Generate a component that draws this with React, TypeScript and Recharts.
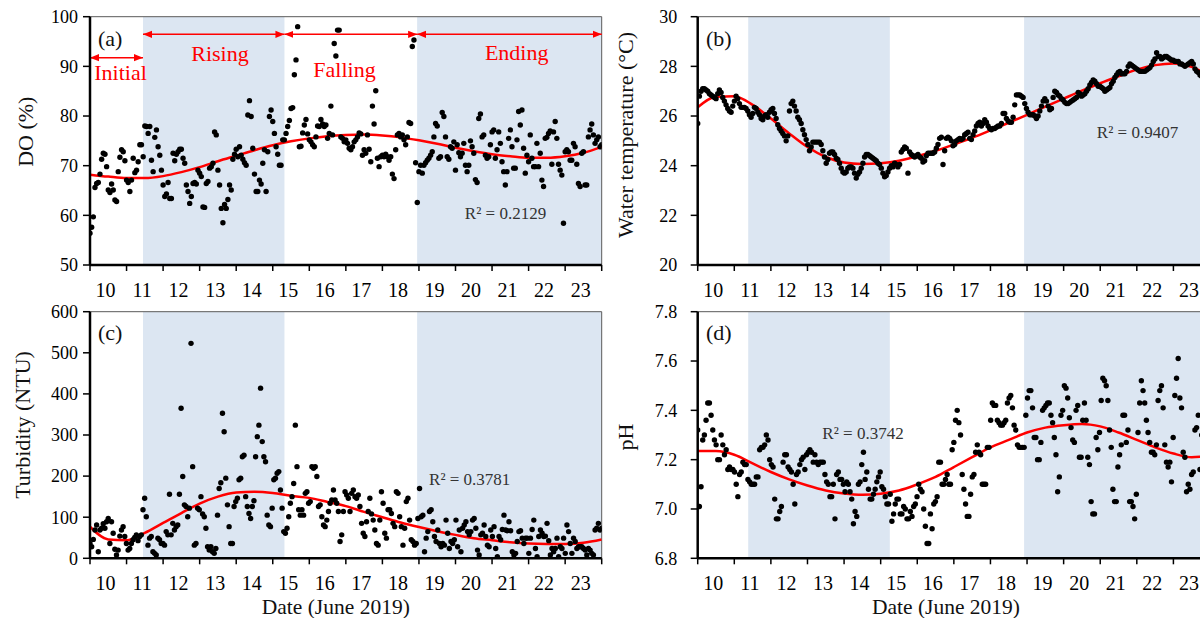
import React from "react";
import {
  ComposedChart,
  Scatter,
  Line,
  XAxis,
  YAxis,
  ReferenceArea,
  ReferenceLine,
} from "recharts";

const FONT = '"Liberation Serif", "Times New Roman", serif';

// x axis: days since 10 June 2019, labels sit between the day ticks
const dayTicks = [0, 1, 2, 3, 4, 5, 6, 7, 8, 9, 10, 11, 12, 13, 14];
const dayLabels = ["10", "11", "12", "13", "14", "15", "16", "17", "18", "19", "20", "21", "22", "23"];
const trendDays = [0, 0.5, 1, 1.5, 2, 2.5, 3, 3.5, 4, 4.5, 5, 5.5, 6, 6.5, 7, 7.5, 8, 8.5, 9, 9.5, 10, 10.5, 11, 11.5, 12, 12.5, 13, 13.5, 14];

// shaded phases (start/end day)
const bandsLeft = [[1.45, 5.32], [8.95, 14]];
const bandsRight = [[1.38, 5.25], [8.92, 14]];
const initialSpan = [0, 1.45];
const phaseSpans = [[1.45, 5.32], [5.32, 8.95], [8.95, 14]];

// (a) DO (%)
const doValues = [
  56.4, 57.6, 59.7, 65.6, 66.4, 66.6, 68.3, 71.3, 72.5, 72.3, 69.8, 65.1, 64.6, 66.3, 65.1, 63.1, 62.8, 68.8, 71.7, 73.2, 72.8, 71.0, 67.1, 66.6,
  64.8, 67.1, 71.5, 68.6, 69.1, 70.8, 74.2, 74.2, 71.8, 78.0, 77.9, 76.5, 77.9, 71.1, 68.8, 75.7, 77.2, 73.8, 72.1, 69.1, 66.1, 63.8, 64.3, 66.6,
  63.4, 63.4, 72.5, 71.0, 72.3, 72.8, 73.3, 73.3, 71.5, 70.5, 66.1, 64.8, 62.4, 63.8, 66.4, 66.6, 66.3, 69.1, 68.5, 67.8, 61.7, 61.6, 66.4, 66.8,
  69.5, 69.8, 70.5, 76.8, 76.2, 69.1, 66.1, 61.4, 58.5, 62.2, 61.4, 63.2, 66.1, 65.1, 71.3, 72.3, 73.3, 71.8, 73.8, 72.1, 71.3, 70.6, 70.1, 80.2,
  83.1, 79.9, 73.5, 68.3, 64.8, 64.8, 67.1, 66.3, 70.5, 73.2, 64.8, 72.8, 79.9, 81.2, 78.9, 76.5, 73.8, 72.3, 70.1, 70.1, 75.2, 75.2, 76.5, 77.9,
  79.1, 81.5, 81.7, 88.3, 91.3,
  98.0, 73.8, 73.9, 76.6, 78.2, 79.3, 76.4, 75.2, 74.8, 74.2, 73.8, 75.8, 78.0, 77.9, 79.3, 78.4, 77.9, 78.2, 75.5, 76.5, 82.0, 76.2, 94.6, 92.1,
  97.3, 97.3, 75.8, 75.5, 74.8, 75.2, 74.5, 73.5, 73.2, 73.8, 74.8, 75.2, 75.8, 76.6, 76.4, 72.1, 73.2, 72.5, 76.2, 73.3, 70.8, 82.0, 78.4, 85.1,
  71.5, 69.8, 71.8, 72.1, 71.8, 72.3, 71.8, 71.1, 71.8, 68.3, 67.4, 73.2, 76.2, 76.5, 75.8, 76.2, 75.2, 74.2, 75.8, 78.7, 78.5, 94.0, 95.3,
  70.6, 62.6, 68.8, 70.1, 68.5, 70.1, 70.6, 71.1, 71.5, 72.1, 72.8, 75.8, 78.5, 78.0, 71.5, 71.8, 80.7, 79.9, 75.8, 71.8,
  71.3, 73.8, 73.5, 74.8, 69.1, 74.2, 72.6, 71.8, 72.5, 74.5, 70.1, 68.8, 70.1, 75.0, 73.8, 72.5, 67.2, 66.6, 79.5, 80.4,
  75.8, 76.2, 72.1, 71.5, 71.8, 74.2, 76.8, 77.2, 71.5, 73.2, 76.8, 74.5, 70.8, 68.8, 66.1, 68.8, 75.5, 77.2, 73.8, 69.5,
  69.5, 75.2, 80.9, 78.2, 81.2, 73.5, 68.5, 72.1, 70.8, 76.2, 71.5, 69.8, 69.8, 74.5, 69.8, 72.5, 67.1, 65.8, 75.5, 75.7,
  76.5, 77.0, 70.3, 76.8, 78.9, 75.5, 70.3, 69.1, 68.1, 58.4, 72.8, 73.2, 72.8, 71.1, 71.1, 74.5, 73.8, 70.3, 66.4, 65.8,
  72.5, 72.8, 66.1, 66.1, 75.8, 77.2, 78.4, 76.2, 74.5, 75.2, 75.8, 73.8, 74.2,
];
const doTrend = [68.2, 67.8, 67.5, 67.5, 67.9, 68.7, 69.7, 70.9, 72.0, 73.1, 74.1, 74.9, 75.5, 75.95, 76.2, 76.3, 76.1, 75.7, 75.1, 74.4, 73.6, 72.9, 72.3, 71.9, 71.6, 71.6, 71.9, 72.6, 73.8];

// (b) water temperature (°C)
const wtValues = [
  25.7, 26.8, 27.0, 27.1, 27.1, 27.05, 27.0, 26.9, 26.85, 26.8, 26.75, 26.7, 26.9, 27.05, 26.95, 26.75, 26.6, 26.45, 26.3, 26.2, 26.15, 26.4,
  26.6, 26.8, 26.7, 26.5, 26.35, 26.35, 26.35, 26.3, 26.2, 26.05, 25.95, 26.1, 26.35, 26.3, 26.15, 26.05, 25.9, 25.85, 26.0, 26.05, 25.95,
  26.15, 26.25, 26.3, 26.1, 25.9, 25.65, 25.5, 25.4, 25.3, 25.2, 25.0, 25.2, 26.2, 26.5, 26.6, 26.4, 26.2, 25.95, 25.85, 25.7, 25.45, 25.25,
  25.05, 24.85, 24.6, 24.75, 24.95, 24.95, 24.95, 24.95, 24.95, 24.85, 24.6, 24.35, 24.1, 24.25, 24.5, 24.55, 24.55, 24.45, 24.3, 24.25,
  24.1, 23.9, 23.75, 23.7, 23.75, 23.9, 23.95, 23.95, 23.9, 23.7, 23.5, 23.65, 23.75, 23.9, 24.1, 24.35, 24.45, 24.45, 24.4, 24.35, 24.3,
  24.25, 24.2, 24.1, 24.05, 23.9, 23.7, 23.55, 23.6, 23.75, 23.9, 24.0, 23.95, 24.1, 24.05, 23.95, 24.05,
  24.55, 24.65, 24.75, 24.7, 23.7, 24.55, 24.45, 24.4, 24.35, 24.4, 24.45, 24.35, 24.3, 24.15, 24.2, 24.4, 24.5, 24.5, 24.5, 24.5,
  24.55, 24.7, 24.85, 25.1, 25.15, 24.05, 24.6, 25.1, 25.15, 25.1, 25.0, 24.8, 24.85, 25.0, 25.05, 25.1, 25.05, 25.1, 25.25, 25.3,
  25.35, 25.1, 25.05, 25.25, 25.4, 25.6, 25.7, 25.75, 25.6, 25.7, 25.85, 25.75, 25.6, 25.5, 25.45, 25.5, 25.5, 25.55, 25.6, 25.6,
  25.7, 26.1, 26.1, 25.9, 25.8, 25.75, 25.75, 25.95, 26.45, 26.85, 26.85, 26.85, 26.8, 26.75, 26.5, 26.3, 26.15, 26.05, 26.05, 26.05,
  26.0, 25.9, 26.0, 26.2, 26.4, 26.6, 26.7, 26.6, 26.4, 26.25, 26.3, 26.75, 27.0, 26.95, 26.85, 26.8, 26.7, 26.65, 26.55, 26.5,
  26.5, 26.55, 26.6, 26.65, 26.7, 26.75, 26.95, 26.9, 26.8, 26.85, 26.9, 27.0, 27.1, 27.25, 27.35, 27.45, 27.4, 27.3, 27.2, 27.2,
  27.15, 27.1, 27.0, 27.05, 27.1, 27.15, 27.3, 27.4, 27.55, 27.65, 27.75, 27.8, 27.7, 27.7, 27.7, 27.8, 28.0, 28.1, 28.05, 28.0,
  27.95, 27.9, 27.85, 27.8, 27.8, 27.8, 27.8, 27.85, 27.9, 27.95, 28.05, 28.2, 28.3, 28.55, 28.4, 28.4, 28.3, 28.35, 28.4, 28.4,
  28.35, 28.3, 28.25, 28.25, 28.2, 28.2, 28.2, 28.1, 28.1, 28.05, 28.0, 28.05, 28.1, 28.15, 28.2, 28.1, 27.9, 27.8, 27.75, 27.65,
  27.6, 27.55, 27.6, 27.5, 27.45, 27.5,
];
const wtTrend = [26.35, 26.78, 26.8, 26.45, 25.9, 25.3, 24.75, 24.35, 24.13, 24.07, 24.1, 24.2, 24.38, 24.6, 24.85, 25.12, 25.42, 25.73, 26.05, 26.38, 26.7, 27.02, 27.32, 27.6, 27.87, 28.05, 28.12, 27.98, 27.6];

// (c) turbidity (NTU)
const tbValues = [
  36, 28, 46, 69, 81, 16, 69, 73, 84, 73, 89, 97, 36, 89, 61, 22, 8, 20, 54, 69, 77, 53, 36, 20, 24, 36, 45, 51, 57, 43,
  53, 57, 118, 146, 101, 32, 49, 53, 16, 12, 8, 49, 45, 36, 36, 32, 65, 57, 156, 57, 85, 69, 77, 81, 156, 365, 199, 130, 126, 101,
  122, 523, 223, 32, 36, 122, 118, 150, 108, 101, 73, 28, 20, 28, 16, 12, 24, 105, 170, 184, 353, 308, 195, 130, 77, 36, 36, 126, 138, 146,
  191, 195, 247, 251, 150, 126, 109, 97, 126, 140, 247, 296, 324, 414, 284, 247, 235, 105, 81, 77, 122, 191, 195, 207, 211, 166, 122, 65, 61, 73,
  101, 134, 150, 182, 324, 223, 118, 105,
  118, 105, 158, 162, 134, 138, 223, 219, 223, 199, 126, 130, 101, 81, 77, 93, 114, 134, 142, 166,
  142, 134, 114, 41, 57, 114, 162, 154, 146, 114, 158, 166, 150, 146, 154, 126, 85, 61, 53, 89,
  114, 146, 108, 93, 69, 36, 32, 93, 162, 134, 61, 49, 118, 118, 109, 85, 77, 162, 158, 101,
  77, 32, 73, 138, 146, 93, 45, 41, 32, 36, 97, 170, 101, 105, 16, 49, 65, 114, 118, 89,
  53, 41, 69, 36, 28, 36, 32, 93, 61, 24, 41, 36, 45, 93, 28, 69, 16, 73, 81, 89,
  65, 57, 65, 93, 97, 73, 20, 8, 57, 61, 81, 53, 32, 28, 69, 53, 77, 24, 4, 53,
  45, 70, 105, 69, 67, 89, 67, 16, 8, 12, 41, 65, 67, 49, 36, 49, 49, 12, 49, 70,
  93, 24, 4, 53, 69, 61, 53, 54, 85, 43, 8, 24, 16, 24, 49, 4, 28, 24, 49, 12,
  81, 65, 36, 12, 49, 41, 24, 28, 28, 28, 24, 20, 8, 24, 20, 12, 8, 69, 73, 85, 69, 73,
];
const tbTrend = [77, 46, 44, 62, 86, 110, 133, 150, 160, 162, 159, 152, 147, 137, 127, 113, 100, 87, 76, 66, 57, 49, 44, 39, 36, 35, 35, 38, 46];

// (d) pH
const phValues = [
  7.32, 7.01, 7.09, 7.28, 7.30, 7.36, 7.43, 7.43, 7.38, 7.32, 7.28, 7.26, 7.20, 7.20, 7.30, 7.26, 7.22, 7.24, 7.16, 7.17,
  7.16, 7.16, 7.15, 7.10, 7.05, 7.14, 7.15, 7.19, 7.18, 7.18, 7.12, 7.11, 7.10, 7.10, 7.10, 7.13, 7.13, 7.24, 7.25, 7.25,
  7.26, 7.30, 7.28, 7.20, 7.18, 7.17, 7.04, 6.96, 6.96, 6.99, 7.01, 7.19, 7.22, 7.22, 7.17, 7.16, 7.15, 7.10, 7.02, 7.14,
  7.15, 7.18, 7.20, 7.21, 7.16, 7.22, 7.23, 7.24, 7.23, 7.19, 7.22, 7.19, 7.18, 7.19, 7.19, 7.19, 7.14, 7.11, 7.10, 7.05,
  7.05, 7.10, 6.96, 7.14, 7.15, 7.12, 7.12, 7.10, 7.07, 7.11, 7.10, 7.07, 7.04, 6.94, 6.99, 6.97, 7.10, 7.11, 7.18, 7.23,
  7.12, 7.15, 7.08, 7.04, 7.04, 7.06, 7.08, 7.11, 7.13, 7.15, 7.09, 7.08, 7.05, 7.02, 7.02, 7.06, 6.95, 6.98, 7.02, 7.04,
  7.04, 6.98,
  6.98, 7.01, 7.00, 6.96, 6.96, 6.99, 6.97, 7.01, 7.02, 7.05, 7.10, 7.08, 7.07, 7.00, 6.93, 6.86, 6.86, 6.98, 6.92, 7.02,
  7.03, 7.05, 7.19, 7.19, 7.10, 7.10, 7.12, 7.14, 7.10, 7.10, 7.24, 7.27, 7.36, 7.40, 7.35, 7.30, 7.14, 7.08, 7.02, 6.97,
  6.97, 7.06, 7.13, 7.14, 7.23, 7.26, 7.23, 7.22, 7.10, 7.10, 7.10, 7.25, 7.25, 7.36, 7.43, 7.42, 7.42, 7.36, 7.35, 7.34,
  7.34, 7.35, 7.36, 7.43, 7.45, 7.46, 7.41, 7.34, 7.32, 7.26, 7.25, 7.25, 7.25, 7.25, 7.38, 7.45, 7.48, 7.48, 7.41, 7.29,
  7.29, 7.20, 7.20, 7.27, 7.40, 7.41, 7.42, 7.43, 7.43, 7.38, 7.35, 7.29, 7.22, 7.07, 7.13, 7.38, 7.40, 7.50, 7.49, 7.45,
  7.37, 7.33, 7.28, 7.27, 7.40, 7.42, 7.21, 7.21, 7.36, 7.43, 7.36, 7.21, 7.18, 7.03, 6.98, 6.98, 7.29, 7.24, 7.31, 7.44,
  7.53, 7.52, 7.50, 7.44, 7.32, 7.25, 7.08, 7.03, 7.03, 7.17, 7.22, 7.26, 7.38, 7.38, 7.27, 7.32, 7.03, 7.03, 7.01, 6.96,
  7.06, 7.31, 7.43, 7.52, 7.48, 7.43, 7.36, 7.31, 7.27, 7.23, 7.23, 7.22, 7.26, 7.44, 7.48, 7.50, 7.41, 7.26, 7.19, 7.17,
  7.19, 7.11, 7.29, 7.46, 7.53, 7.61, 7.45, 7.41, 7.23, 7.21, 7.07, 7.10, 7.08, 7.14, 7.15, 7.32, 7.33, 7.38, 7.16,
  7.30, 7.34, 7.25, 7.20, 7.28, 7.31,
];
const phTrend = [7.235, 7.235, 7.22, 7.185, 7.15, 7.12, 7.095, 7.075, 7.063, 7.058, 7.062, 7.075, 7.1, 7.13, 7.17, 7.21, 7.25, 7.28, 7.31, 7.33, 7.34, 7.345, 7.335, 7.31, 7.28, 7.25, 7.225, 7.21, 7.215];

const toSeries = (values: number[]) =>
  values.map((y, i) => ({ x: (14 * i) / (values.length - 1), y }));
const toTrend = (values: number[]) => trendDays.map((x, i) => ({ x, y: values[i] }));

const BAND = "#dce6f2";
const RED = "#ff0000";

function DayTick(props: any) {
  const { x, y, payload } = props;
  const label = dayLabels[payload.value];
  if (!label) return <g />;
  return (
    <text x={x + 15.5} y={y} dy={23.5} textAnchor="middle" fontSize={20} fontFamily={FONT} fill="#000">
      {label}
    </text>
  );
}

const dot = (p: any) => <circle cx={p.cx} cy={p.cy} r={2.7} fill="#000" />;

interface PanelProps {
  left: number;
  top: number;
  height: number;
  margin: { top: number; right: number; bottom: number; left: number };
  yDomain: [number, number];
  yTicks: number[];
  yFmt?: (v: number) => string;
  yTickMargin: number;
  values: number[];
  trend: number[];
  bands: number[][];
  children?: React.ReactNode;
}

function Panel(p: PanelProps) {
  return (
    <div style={{ position: "absolute", left: p.left, top: p.top }}>
      <ComposedChart width={610} height={p.height} margin={p.margin}>
        {p.bands.map(([a, b]) => (
          <ReferenceArea key={a} x1={a} x2={b} fill={BAND} fillOpacity={1} stroke="none" ifOverflow="hidden" />
        ))}
        <ReferenceLine y={p.yDomain[1]} stroke="#595959" strokeWidth={1} />
        <ReferenceLine x={14} stroke="#595959" strokeWidth={1} />
        <XAxis
          type="number"
          dataKey="x"
          domain={[0, 14]}
          ticks={dayTicks}
          interval={0}
          allowDataOverflow
          height={30}
          tickSize={6}
          axisLine={{ stroke: "#000", strokeWidth: 2.5 }}
          tickLine={{ stroke: "#000", strokeWidth: 1.5 }}
          tick={<DayTick />}
        />
        <YAxis
          type="number"
          domain={p.yDomain}
          ticks={p.yTicks}
          interval={0}
          allowDataOverflow
          width={80}
          tickSize={7}
          tickMargin={p.yTickMargin}
          tickFormatter={p.yFmt}
          axisLine={{ stroke: "#000", strokeWidth: 2.5 }}
          tickLine={{ stroke: "#000", strokeWidth: 1.5 }}
          tick={{ fontSize: 18, fill: "#000", fontFamily: FONT }}
        />
        <Scatter data={toSeries(p.values)} dataKey="y" shape={dot} isAnimationActive={false} />
        <Line
          data={toTrend(p.trend)}
          dataKey="y"
          type="monotone"
          stroke={RED}
          strokeWidth={2.5}
          dot={false}
          activeDot={false}
          isAnimationActive={false}
        />
        {p.children}
      </ComposedChart>
    </div>
  );
}

const PHASE_ARROW_LEVEL = 96.45;
const INITIAL_ARROW_LEVEL = 91.75;

function Arrow({ span, level }: { span: number[]; level: number }) {
  return (
    <ReferenceLine
      segment={[
        { x: span[0], y: level },
        { x: span[1], y: level },
      ]}
      stroke={RED}
      strokeWidth={1.5}
      markerStart="url(#redHead)"
      markerEnd="url(#redHead)"
      ifOverflow="visible"
    />
  );
}

export default function App() {
  const topLeft = { top: 16.7, right: 8.3, bottom: 5, left: 10 };
  const topRight = { top: 16.7, right: 10, bottom: 5, left: 7.7 };
  const botLeft = { top: 16.7, right: 8.3, bottom: 6.7, left: 10 };
  const botRight = { top: 16.7, right: 10, bottom: 6.7, left: 7.7 };
  const fmt1 = (v: number) => v.toFixed(1);

  return (
    <div
      style={{
        position: "absolute",
        left: 0,
        top: 0,
        width: 1200,
        height: 618,
        overflow: "hidden",
        background: "#fff",
        fontFamily: FONT,
      }}
    >
      <Panel
        left={0}
        top={0}
        height={300}
        margin={topLeft}
        yDomain={[50, 100]}
        yTicks={[50, 60, 70, 80, 90, 100]}
        yTickMargin={5}
        values={doValues}
        trend={doTrend}
        bands={bandsLeft}
      >
        <defs>
          <marker
            id="redHead"
            viewBox="0 0 10 10"
            refX={10}
            refY={5}
            markerWidth={9}
            markerHeight={9}
            markerUnits="userSpaceOnUse"
            orient="auto-start-reverse"
          >
            <path d="M0,1 L10,5 L0,9 z" fill={RED} />
          </marker>
        </defs>
        <Arrow span={initialSpan} level={INITIAL_ARROW_LEVEL} />
        {phaseSpans.map((s) => (
          <Arrow key={s[0]} span={s} level={PHASE_ARROW_LEVEL} />
        ))}
      </Panel>
      <Panel
        left={610}
        top={0}
        height={300}
        margin={topRight}
        yDomain={[20, 30]}
        yTicks={[20, 22, 24, 26, 28, 30]}
        yTickMargin={13.4}
        values={wtValues}
        trend={wtTrend}
        bands={bandsRight}
      />
      <Panel
        left={0}
        top={295}
        height={300}
        margin={botLeft}
        yDomain={[0, 600]}
        yTicks={[0, 100, 200, 300, 400, 500, 600]}
        yTickMargin={5}
        values={tbValues}
        trend={tbTrend}
        bands={bandsLeft}
      />
      <Panel
        left={610}
        top={295}
        height={300}
        margin={botRight}
        yDomain={[6.8, 7.8]}
        yTicks={[6.8, 7.0, 7.2, 7.4, 7.6, 7.8]}
        yFmt={fmt1}
        yTickMargin={13.4}
        values={phValues}
        trend={phTrend}
        bands={bandsRight}
      />

      <svg
        width={1200}
        height={618}
        style={{ position: "absolute", left: 0, top: 0, pointerEvents: "none" }}
        fontFamily={FONT}
      >
        <g fontSize={22} fill="#111">
          <text x={98} y={46}>(a)</text>
          <text x={706} y={46}>(b)</text>
          <text x={98} y={340}>(c)</text>
          <text x={706} y={340}>(d)</text>
        </g>
        <g fontSize={22} fill={RED}>
          <text x={94.3} y={80}>Initial</text>
          <text x={220} y={61} textAnchor="middle">Rising</text>
          <text x={344.5} y={77.3} textAnchor="middle">Falling</text>
          <text x={516.7} y={60} textAnchor="middle">Ending</text>
        </g>
        <g fontSize={17} fill="#333" textAnchor="middle">
          <text x={505.5} y={219}>R² = 0.2129</text>
          <text x={1137.5} y={137.7}>R² = 0.9407</text>
          <text x={469.7} y={485}>R² = 0.3781</text>
          <text x={863} y={439}>R² = 0.3742</text>
        </g>
        <g fontSize={22} fill="#111" textAnchor="middle" dominantBaseline="central">
          <text transform="translate(25.8,131.7) rotate(-90)">DO (%)</text>
          <text transform="translate(625.6,135) rotate(-90)">Water temperature (°C)</text>
          <text transform="translate(22.5,425) rotate(-90)">Turbidity (NTU)</text>
          <text transform="translate(625.6,437) rotate(-90)">pH</text>
        </g>
        <g fontSize={21.5} fill="#111" textAnchor="middle">
          <text x={335.8} y={614}>Date (June 2019)</text>
          <text x={946} y={614}>Date (June 2019)</text>
        </g>
      </svg>
    </div>
  );
}
